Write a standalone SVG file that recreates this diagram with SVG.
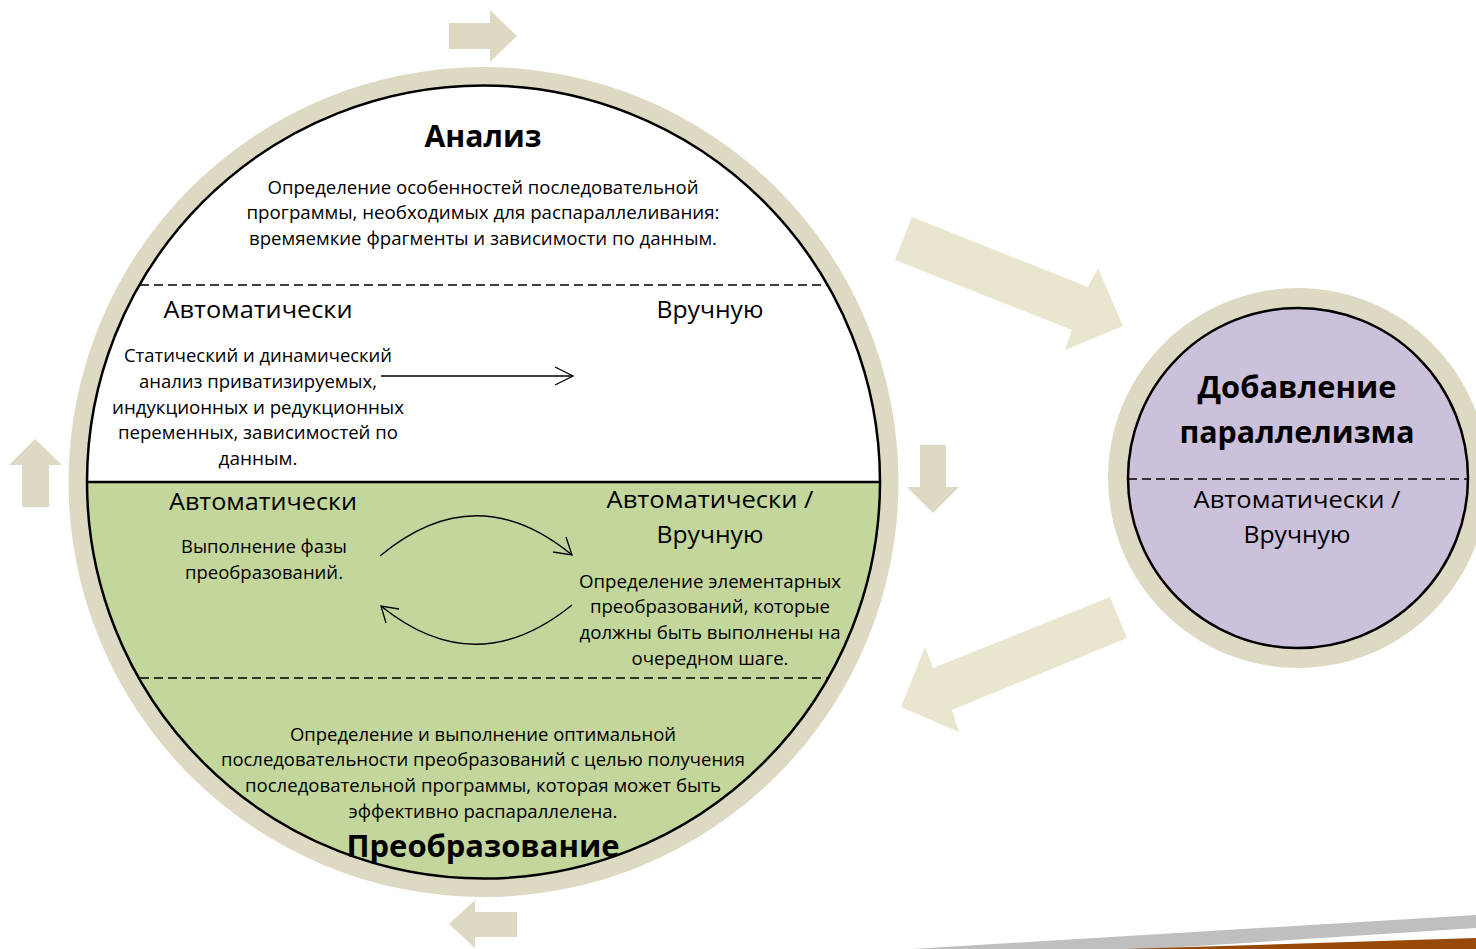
<svg xmlns="http://www.w3.org/2000/svg" width="1476" height="949" viewBox="0 0 1476 949">
<style>
.t{font-family:"Open Sans","Noto Sans",sans-serif;fill:#000;text-anchor:middle}
.s{font-size:17.5px}
.m{font-size:23px}
.b{font-size:31px;font-weight:bold}
.dash{stroke:#000;stroke-width:1.3;stroke-dasharray:9 5;fill:none}
.ln{stroke:#000;stroke-width:1.3;fill:none}
.sa{fill:#ddd9c3}
.ba{fill:#e9e5cf}
</style>
<rect width="1476" height="949" fill="#fff"/>
<g id="connectors">
<polygon class="sa" points="449,23 490,23 490,10 517,36 490,62 490,49 449,49"/>
<polygon class="sa" points="22,507 22,465 9,465 35,439 62,465 49,465 49,507"/>
<polygon class="sa" points="920,445 946,445 946,487 959,487 933,513 907,487 920,487"/>
<polygon class="sa" points="517,912 517,937 475,937 475,948 449,924 475,900 475,912"/>
<polygon class="ba" points="912,217 1088,287 1098,268 1123,326 1065,350 1072,330 895,260"/>
<polygon class="ba" points="1110,597 1127,638 952,710 959,732 901,707 925,647 933,668"/>
</g>
<g id="node-main">
<circle cx="483.5" cy="482" r="415" fill="#ddd9c3"/>
<circle cx="483.5" cy="482" r="396.5" fill="#fff"/>
<path d="M87,482 L880,482 A396.5,396.5 0 0 1 87,482 Z" fill="#c3d69b"/>
<circle cx="483.5" cy="482" r="396.5" fill="none" stroke="#000" stroke-width="2.5"/>
<line x1="87" y1="482" x2="880" y2="482" stroke="#000" stroke-width="2.5"/>
<line class="dash" x1="140" y1="285" x2="827" y2="285"/>
<line class="dash" x1="140" y1="678" x2="827" y2="678"/>
</g>
<g id="inner-connectors">
<line class="ln" x1="381" y1="376" x2="573" y2="376"/>
<polyline class="ln" points="555,367 573,376 555,385"/>
<path class="ln" d="M380,556 Q476,476 572,555"/>
<polyline class="ln" points="566,537 572,555 553,552"/>
<path class="ln" d="M572,605 Q476,683 381,606"/>
<polyline class="ln" points="399,609 381,606 386,623"/>
</g>
<g id="node-analysis">
<text class="t b" x="483" y="147" textLength="117" lengthAdjust="spacingAndGlyphs">Анализ</text>
<text class="t s" x="483" y="194" textLength="431" lengthAdjust="spacingAndGlyphs">Определение особенностей последовательной</text>
<text class="t s" x="483" y="219" textLength="473" lengthAdjust="spacingAndGlyphs">программы, необходимых для распараллеливания:</text>
<text class="t s" x="483" y="245" textLength="468" lengthAdjust="spacingAndGlyphs">времяемкие фрагменты и зависимости по данным.</text>
<text class="t m" x="258" y="318" textLength="189" lengthAdjust="spacingAndGlyphs">Автоматически</text>
<text class="t m" x="710" y="318" textLength="107" lengthAdjust="spacingAndGlyphs">Вручную</text>
<text class="t s" x="258" y="362" textLength="268" lengthAdjust="spacingAndGlyphs">Статический и динамический</text>
<text class="t s" x="258" y="388" textLength="238" lengthAdjust="spacingAndGlyphs">анализ приватизируемых,</text>
<text class="t s" x="258" y="414" textLength="292" lengthAdjust="spacingAndGlyphs">индукционных и редукционных</text>
<text class="t s" x="258" y="439" textLength="280" lengthAdjust="spacingAndGlyphs">переменных, зависимостей по</text>
<text class="t s" x="258" y="465" textLength="79" lengthAdjust="spacingAndGlyphs">данным.</text>
</g>
<g id="node-transform">
<text class="t m" x="263" y="510" textLength="188" lengthAdjust="spacingAndGlyphs">Автоматически</text>
<text class="t m" x="710" y="508" textLength="207" lengthAdjust="spacingAndGlyphs">Автоматически /</text>
<text class="t m" x="710" y="543" textLength="107" lengthAdjust="spacingAndGlyphs">Вручную</text>
<text class="t s" x="264" y="553" textLength="166" lengthAdjust="spacingAndGlyphs">Выполнение фазы</text>
<text class="t s" x="264" y="579" textLength="158" lengthAdjust="spacingAndGlyphs">преобразований.</text>
<text class="t s" x="710" y="588" textLength="262" lengthAdjust="spacingAndGlyphs">Определение элементарных</text>
<text class="t s" x="710" y="613" textLength="240" lengthAdjust="spacingAndGlyphs">преобразований, которые</text>
<text class="t s" x="710" y="639" textLength="261" lengthAdjust="spacingAndGlyphs">должны быть выполнены на</text>
<text class="t s" x="710" y="665" textLength="157" lengthAdjust="spacingAndGlyphs">очередном шаге.</text>
<text class="t s" x="483" y="741" textLength="386" lengthAdjust="spacingAndGlyphs">Определение и выполнение оптимальной</text>
<text class="t s" x="483" y="766" textLength="524" lengthAdjust="spacingAndGlyphs">последовательности преобразований с целью получения</text>
<text class="t s" x="483" y="792" textLength="476" lengthAdjust="spacingAndGlyphs">последовательной программы, которая может быть</text>
<text class="t s" x="483" y="818" textLength="269" lengthAdjust="spacingAndGlyphs">эффективно распараллелена.</text>
<text class="t b" x="483" y="857" textLength="273" lengthAdjust="spacingAndGlyphs">Преобразование</text>
</g>
<g id="node-parallel">
<circle cx="1298" cy="478" r="190" fill="#ddd9c3"/>
<circle cx="1298" cy="478" r="170" fill="#ccc1da" stroke="#000" stroke-width="2.5"/>
<line class="dash" x1="1128" y1="479" x2="1468" y2="479"/>
<text class="t b" x="1297" y="398" textLength="199" lengthAdjust="spacingAndGlyphs">Добавление</text>
<text class="t b" x="1297" y="443" textLength="235" lengthAdjust="spacingAndGlyphs">параллелизма</text>
<text class="t m" x="1297" y="508" textLength="207" lengthAdjust="spacingAndGlyphs">Автоматически /</text>
<text class="t m" x="1297" y="543" textLength="107" lengthAdjust="spacingAndGlyphs">Вручную</text>
</g>
<g id="decor">
<polygon fill="#bfbfbf" points="912,949 1476,915 1476,928 1150,949"/>
<polygon fill="#984807" points="1125,949 1476,938 1476,949"/>
</g>
</svg>
